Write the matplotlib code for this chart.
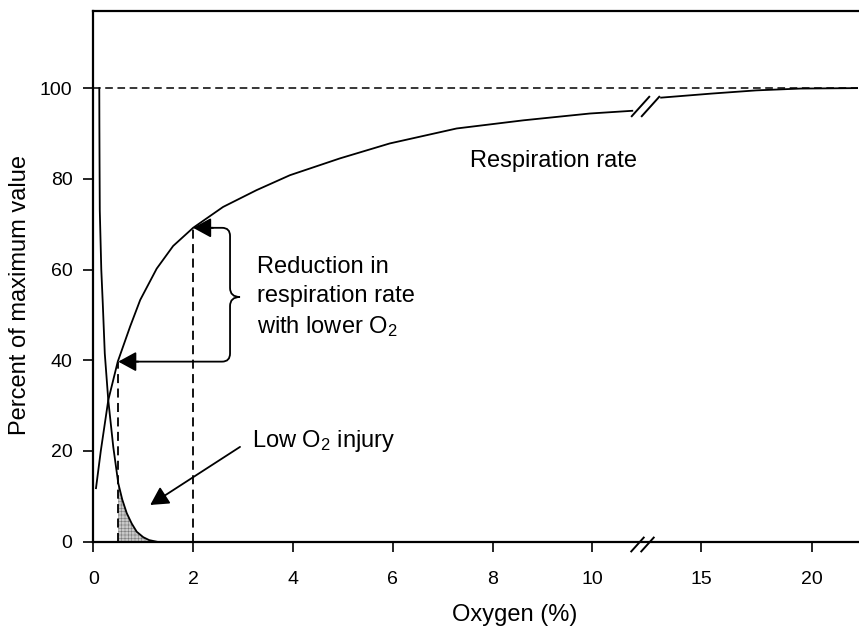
import numpy as np
import matplotlib
matplotlib.use("Agg")
import matplotlib.pyplot as plt
from matplotlib.path import Path
from matplotlib.patches import PathPatch

plt.rcParams["font.family"] = ["Liberation Sans", "DejaVu Sans"]
plt.rcParams["mathtext.fontset"] = "custom"
plt.rcParams["mathtext.rm"] = "Liberation Sans"
plt.rcParams["mathtext.it"] = "Liberation Sans"
plt.rcParams["hatch.linewidth"] = 0.4

# --- data
resp_x = [0.054, 0.15, 0.3, 0.49, 0.74, 0.94, 1.27, 1.6, 2.0, 2.6, 3.27,
          3.94, 4.94, 5.94, 7.28, 8.62, 9.95, 10.8]
resp_y = [11.8, 20.0, 31.2, 39.7, 47.5, 53.3, 60.2, 65.2, 69.2, 73.8, 77.5,
          80.8, 84.5, 87.8, 91.1, 92.9, 94.4, 95.0]
resp2_x = [13.2, 15.5, 17.5, 19.5, 22.1]
resp2_y = [97.9, 98.8, 99.5, 99.9, 100.0]
injury_x = [0.12, 0.122, 0.125, 0.13, 0.16, 0.19, 0.23, 0.3, 0.4, 0.5, 0.58,
            0.67, 0.77, 0.87, 1.0, 1.12, 1.27]
injury_y = [100, 92, 84, 73, 60, 52.5, 41.5, 31.2, 20.9, 12.9, 9.3,
            6.3, 4.0, 2.2, 1.0, 0.35, 0.0]
low_o2, high_o2 = 0.5, 2.0        # the two dashed drop lines
low_resp, high_resp = 39.7, 69.2
xticks = [0, 2, 4, 6, 8, 10, 15, 20]
yticks = [0, 20, 40, 60, 80, 100]

# broken x axis: 10.8..12.8 squeezed, right part compressed
_xb = [-100, 10.8, 12.8, 100]
_ub = [-100, 10.8, 11.2, 11.2 + (100 - 12.8) * 0.4433]

def fwd(x):
    return np.interp(x, _xb, _ub)

def inv(u):
    return np.interp(u, _ub, _xb)


fig = plt.figure(figsize=(8.59, 6.27), dpi=100)
ax = fig.add_axes([93.3 / 859, 1 - 541.7 / 627, (858 - 93.3) / 859, 530.7 / 627])
ax.set_xscale("function", functions=(fwd, inv))
ax.set_xlim(0, 22.1)
ax.set_ylim(0, 117)

lw = 1.3
ax.plot(resp_x, resp_y, color="k", lw=lw)
ax.plot(resp2_x, resp2_y, color="k", lw=lw)
ax.plot(injury_x, injury_y, color="k", lw=lw)

ix = np.array(injury_x)
iy = np.array(injury_y)
m = ix >= low_o2
ax.fill_between(ix[m], 0, iy[m], facecolor="#c9c9c9", edgecolor="#7a7a7a",
                hatch="+++++", lw=0)

ax.axhline(100, color="k", lw=1.1, dashes=(5, 3))
ax.plot([low_o2, low_o2], [0, low_resp], color="k", lw=1.3, dashes=(5, 3))
ax.plot([high_o2, high_o2], [0, high_resp], color="k", lw=1.3, dashes=(5, 3))

# break marks
slash = [(-0.45, -0.5), (0.45, 0.5)]
ax.plot([11.6, 12.6], [96.1, 96.1], ls="none", marker=slash, ms=15,
        mew=1.4, color="k")
ax.plot([11.25, 12.25], [-0.5, -0.5], ls="none", marker=slash, ms=11,
        mew=1.4, color="k", clip_on=False)

# brace with two arrows
bx, tip = 2.74, 2.94
r_x, r_y = 0.16, 1.8
mid = (high_resp + low_resp) / 2 - 0.5
verts = [(high_o2 + 0.15, high_resp), (bx - r_x, high_resp),
         (bx, high_resp), (bx, high_resp - r_y),
         (bx, mid + 2.0),
         (bx, mid), (tip, mid),
         (bx, mid), (bx, mid - 2.0),
         (bx, low_resp + r_y),
         (bx, low_resp), (bx - r_x, low_resp),
         (low_o2 + 0.15, low_resp)]
codes = [Path.MOVETO, Path.LINETO,
         Path.CURVE3, Path.CURVE3,
         Path.LINETO,
         Path.CURVE3, Path.CURVE3,
         Path.CURVE3, Path.CURVE3,
         Path.LINETO,
         Path.CURVE3, Path.CURVE3,
         Path.LINETO]
ax.add_patch(PathPatch(Path(verts, codes), fill=False, lw=1.3, color="k"))
head = dict(arrowstyle="-|>,head_length=0.55,head_width=0.3", color="k",
            lw=1.3, mutation_scale=20, shrinkA=0, shrinkB=0)
ax.annotate("", xy=(high_o2, high_resp), xytext=(high_o2 + 0.4, high_resp),
            arrowprops=head)
ax.annotate("", xy=(low_o2, low_resp), xytext=(low_o2 + 0.4, low_resp),
            arrowprops=head)

ax.annotate("", xy=(1.14, 8.1), xytext=(2.94, 20.9), arrowprops=head)

fs = 17
ax.text(3.28, 53.8, "Reduction in\nrespiration rate\nwith lower O$_2$",
        fontsize=fs, ha="left", va="center", linespacing=1.4)
ax.text(3.17, 22.2, "Low O$_2$ injury", fontsize=fs, ha="left", va="center")
ax.text(7.55, 84.0, "Respiration rate", fontsize=fs, ha="left", va="center")

ax.set_xticks(xticks)
ax.set_xticklabels([str(t) for t in xticks])
ax.set_yticks(yticks)
ax.minorticks_off()
ax.tick_params(direction="out", length=7, width=1.2, labelsize=14)
ax.tick_params(axis="x", pad=14)
ax.tick_params(axis="y", pad=8)

ax.set_xlabel("Oxygen (%)", fontsize=fs)
ax.set_ylabel("Percent of maximum value", fontsize=fs)
ax.xaxis.set_label_coords(0.551, -0.118)
ax.yaxis.set_label_coords(-0.082, 0.465)

for s in ["left", "bottom", "top"]:
    ax.spines[s].set_linewidth(1.6)
ax.spines["right"].set_visible(False)

fig.savefig("out.png", dpi=100)
